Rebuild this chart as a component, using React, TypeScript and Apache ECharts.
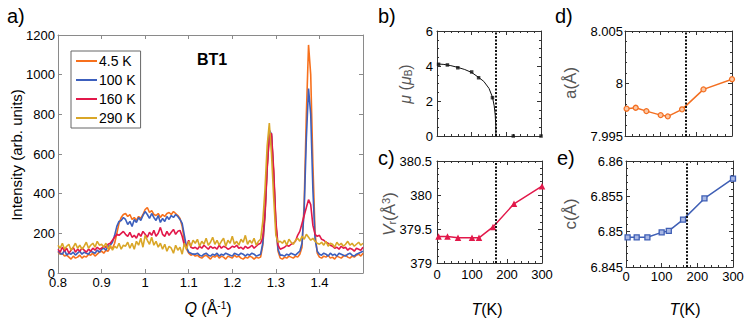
import React, { useEffect, useRef } from 'react';
import * as echarts from 'echarts';

const FONT = '"Liberation Sans", Arial, Helvetica, sans-serif';

// ---------- Panel a: neutron diffraction patterns (BT1) ----------
const Q_START = 0.8;
const Q_STEP = 0.005;

const int4K = [
  105, 95, 100, 85, 90, 80, 70, 85, 75, 80, 90, 75, 85, 80, 95, 90, 100, 85, 95, 105, 110,
  100, 115, 110, 130, 125, 150, 200, 250, 280, 295,
  300, 285, 295, 270, 280, 265, 285, 275, 295, 320, 330, 305, 315, 295, 290, 300, 280, 295, 285, 300, 305, 295, 310, 300, 290, 275,
  235, 165, 120, 100, 90, 95,
  85, 90, 80, 75, 85, 90, 80, 70, 85, 80, 90, 75, 85, 80, 70, 85, 80, 75, 90, 80, 85, 75, 70, 80, 75, 85, 80, 70, 80, 75,
  80, 140, 280, 520, 700, 690, 500, 250, 110, 75,
  70, 80, 75, 85, 80, 75, 85, 80,
  95, 130, 350, 800, 1150, 1000, 550, 200, 100, 80,
  75, 85, 80, 90, 75, 80, 70, 85, 80, 75, 85, 90, 80, 75, 85, 80, 90, 95, 85, 100,
];

const int100K = [
  110, 100, 95, 115, 90, 100, 95, 105, 90, 100, 110, 95, 105, 100, 95, 110, 105, 100, 115, 105, 120,
  125, 115, 135, 140, 155, 190, 235, 260, 265, 280,
  270, 245, 260, 235, 270, 255, 280, 265, 290, 310, 295, 275, 300, 280, 265, 290, 255, 275, 260, 285, 270, 290, 280, 295, 285, 270,
  250, 190, 130, 105, 100, 95,
  95, 100, 90, 85, 95, 100, 90, 85, 95, 90, 100, 85, 95, 90, 100, 95, 90, 85, 100, 95, 90, 100, 95, 85, 95, 90, 100, 95, 85, 90,
  95, 150, 300, 540, 720, 700, 490, 240, 120, 90,
  90, 85, 95, 90, 100, 95, 90, 100,
  110, 150, 320, 680, 930, 800, 420, 170, 110, 95,
  90, 100, 95, 85, 100, 90, 95, 85, 100, 95, 90, 85, 95, 100, 90, 85, 95, 100, 105, 110,
];

const int160K = [
  120, 105, 130, 110, 125, 100, 115, 130, 105, 120, 110, 125, 115, 105, 120, 110, 125, 115, 130, 120, 125,
  135, 130, 145, 150, 165, 180, 195, 190, 200, 210,
  195, 185, 205, 180, 190, 175, 200, 185, 210, 195, 180, 205, 190, 215, 185, 200, 230, 195, 185, 210, 190, 205, 220, 195, 210, 215,
  185, 140, 135, 165, 130, 125,
  130, 120, 135, 125, 140, 130, 120, 135, 125, 130, 120, 140, 125, 135, 130, 120, 125, 135, 130, 140, 125, 130, 120, 135, 125, 130, 140, 125, 135, 145,
  150, 180, 300, 530, 690, 705, 520, 260, 140, 120,
  125, 130, 140, 135, 145, 150, 160, 190,
  210, 250, 290, 330, 370, 345, 240, 195, 185, 190,
  170, 165, 155, 150, 140, 135, 125, 130, 120, 135, 125, 130, 115, 125, 120, 110, 125, 120, 115, 130,
];

const int290K = [
  140, 125, 150, 120, 135, 145, 115, 130, 150, 125, 140, 120, 135, 155, 125, 140, 150, 130, 160, 140, 145,
  130, 150, 120, 140, 115, 135, 125, 150, 120, 140,
  135, 155, 125, 150, 120, 160, 140, 175, 130, 190, 165, 145, 180, 140, 160, 130, 150, 120, 145, 110, 135, 125, 100, 140, 115, 130,
  95, 150, 120, 160, 135, 165,
  150, 170, 135, 160, 145, 175, 140, 155, 180, 145, 165, 140, 160, 175, 135, 165, 150, 185, 145, 160, 140, 170, 155, 190, 145, 165, 150, 175, 140, 160,
  170, 260, 420, 640, 756, 600, 380, 190, 155, 160,
  150, 165, 140, 170, 155, 145, 165, 175,
  160, 185, 170, 195, 180, 165, 175, 160, 150, 145,
  155, 140, 160, 135, 150, 145, 130, 155, 140, 150, 135, 145, 160, 140, 150, 135, 145, 155, 140, 150,
];

const patternNames = ['4.5 K', '100 K', '160 K', '290 K'];
const patternColors = ['#f7701c', '#3c5fbd', '#e2184a', '#d9a627'];
const patterns = [int4K, int100K, int160K, int290K];

// ---------- Panels b-e: temperature dependence ----------
const tPoints = [4.5, 30, 60, 100, 120, 160, 220, 300];
const muValues = [4.10, 4.06, 3.90, 3.66, 3.33, 2.19, 0, 0];
const muFitT = [0, 20, 40, 60, 80, 100, 120, 135, 150, 160, 165, 168, 169.5, 170];
const muFitValues = [4.12, 4.09, 4.02, 3.92, 3.80, 3.63, 3.35, 3.12, 2.72, 2.22, 1.72, 1.2, 0.6, 0];
const vrValues = [379.39, 379.39, 379.37, 379.37, 379.37, 379.53, 379.87, 380.13];
const aValues = [7.9976, 7.99769, 7.99737, 7.99699, 7.99687, 7.99754, 7.99944, 8.00041];
const cValues = [6.8492, 6.8492, 6.8492, 6.8499, 6.8501, 6.8517, 6.8547, 6.8575];
const tTransition = 169;

const tickLabels = {
  q: ['0.8', '0.9', '1', '1.1', '1.2', '1.3', '1.4'],
};

const qGrid = int4K.map((_, i) => +(Q_START + i * Q_STEP).toFixed(3));

function pairs(xs: number[], ys: number[]) {
  return ys.map((y, i) => [xs[i], y]);
}

const fmt = (d: number) => (v: number) => String(parseFloat(v.toFixed(d)));

const grayA = '#8a8a8a';
const dark = '#333';

function xAxes(grid: number, min: number, max: number, interval: number, color: string, labels: any, minor: boolean) {
  const common = {
    type: 'value',
    gridIndex: grid,
    min,
    max,
    interval,
    axisLine: { show: true, onZero: false, lineStyle: { color, width: 1 } },
    axisTick: { show: true, inside: true, length: 4, lineStyle: { color } },
    minorTick: { show: minor, splitNumber: 5, length: 2, lineStyle: { color } },
    splitLine: { show: false },
    minorSplitLine: { show: false },
  };
  return [
    { ...common, position: 'bottom', axisLabel: labels },
    { ...common, position: 'top', axisLabel: { show: false } },
  ];
}

function yAxes(grid: number, min: number, max: number, interval: number, color: string, labels: any, minor: boolean, minorSplit = 4) {
  const common = {
    type: 'value',
    gridIndex: grid,
    min,
    max,
    interval,
    axisLine: { show: true, onZero: false, lineStyle: { color, width: 1 } },
    axisTick: { show: true, inside: true, length: 4, lineStyle: { color } },
    minorTick: { show: minor, splitNumber: minorSplit, length: 2, lineStyle: { color } },
    splitLine: { show: false },
    minorSplitLine: { show: false },
  };
  return [
    { ...common, position: 'left', axisLabel: labels },
    { ...common, position: 'right', axisLabel: { show: false } },
  ];
}

const labelStyle = (margin: number, formatter?: any) => ({
  show: true,
  color: '#000',
  fontSize: 13,
  fontFamily: FONT,
  margin,
  formatter,
});

const dottedLine = {
  silent: true,
  symbol: 'none',
  label: { show: false },
  lineStyle: { type: [2, 1.5], color: '#111', width: 2 },
  data: [{ xAxis: tTransition }],
};

function txt(x: number, y: number, text: string, size: number, opts: any = {}) {
  return {
    type: 'text',
    x,
    y,
    rotation: opts.rotate ? Math.PI / 2 : 0,
    silent: true,
    style: {
      text,
      fill: opts.color || '#000',
      fontSize: size,
      fontFamily: FONT,
      fontWeight: opts.bold ? 'bold' : 'normal',
      align: opts.align || 'center',
      verticalAlign: 'middle',
      rich: opts.rich,
    },
  };
}

const richBase = (size: number, color: string) => ({
  i: { fontStyle: 'italic', fontSize: size, fontFamily: FONT, color },
  n: { fontSize: size, fontFamily: FONT, color },
  sup: { fontSize: Math.round(size * 0.65), fontFamily: FONT, verticalAlign: 'top', color },
  sub: { fontSize: Math.round(size * 0.65), fontFamily: FONT, verticalAlign: 'bottom', color },
});

const labelGray = '#555';

const option: any = {
  animation: false,
  backgroundColor: '#fff',
  textStyle: { fontFamily: FONT },
  grid: [
    { left: 58, top: 35, width: 305, height: 238 },
    { left: 437, top: 31, width: 104, height: 105 },
    { left: 437, top: 161, width: 105, height: 102 },
    { left: 625, top: 31, width: 107, height: 105 },
    { left: 626, top: 161, width: 107, height: 106 },
  ],
  xAxis: [
    ...xAxes(0, 0.8, 1.5, 0.1, grayA, labelStyle(3, (v: number) => {
      const i = Math.round((v - 0.8) / 0.1);
      return tickLabels.q[i] ?? '';
    }), false),
    ...xAxes(1, 0, 300, 100, dark, { show: false }, true),
    ...xAxes(2, 0, 300, 100, dark, labelStyle(5, fmt(0)), true),
    ...xAxes(3, 0, 300, 100, dark, { show: false }, true),
    ...xAxes(4, 0, 300, 100, dark, labelStyle(3, fmt(0)), true),
  ],
  yAxis: [
    ...yAxes(0, 0, 1200, 200, grayA, labelStyle(3, fmt(0)), false),
    ...yAxes(1, 0, 6, 2, dark, labelStyle(4, fmt(0)), true, 4),
    ...yAxes(2, 379, 380.5, 0.5, dark, labelStyle(5, fmt(1)), true, 5),
    ...yAxes(3, 7.995, 8.005, 0.005, dark, labelStyle(2, fmt(3)), true, 5),
    ...yAxes(4, 6.845, 6.86, 0.005, dark, labelStyle(3, fmt(3)), true, 5),
  ],
  legend: {
    data: patternNames,
    left: 71,
    top: 51,
    orient: 'vertical',
    icon: 'rect',
    itemWidth: 21,
    itemHeight: 2,
    itemGap: 5,
    padding: [3, 5, 3, 5],
    borderColor: '#666',
    borderWidth: 1,
    backgroundColor: '#fff',
    textStyle: { fontSize: 14, fontFamily: FONT, color: '#000', lineHeight: 14, padding: [0, 0, 0, -3] },
  },
  series: [
    ...patterns.map((p, k) => ({
      name: patternNames[k],
      type: 'line',
      xAxisIndex: 0,
      yAxisIndex: 0,
      symbol: 'none',
      showSymbol: false,
      color: patternColors[k],
      lineStyle: { width: 1.6, color: patternColors[k] },
      data: pairs(qGrid, p),
      z: 2 + k,
    })),
    {
      name: 'mu fit',
      type: 'line',
      xAxisIndex: 2,
      yAxisIndex: 2,
      symbol: 'none',
      color: '#111',
      lineStyle: { width: 1, color: '#111' },
      data: pairs(muFitT, muFitValues),
    },
    {
      name: 'mu',
      type: 'scatter',
      xAxisIndex: 2,
      yAxisIndex: 2,
      symbol: 'rect',
      symbolSize: 3.5,
      itemStyle: { color: '#111' },
      data: pairs(tPoints, muValues),
      markLine: dottedLine,
    },
    {
      name: 'Vr',
      type: 'line',
      xAxisIndex: 4,
      yAxisIndex: 4,
      symbol: 'triangle',
      symbolSize: 6.5,
      color: '#e2184a',
      lineStyle: { width: 1.5, color: '#e2184a' },
      itemStyle: { color: '#e2184a' },
      data: pairs(tPoints, vrValues),
      markLine: dottedLine,
    },
    {
      name: 'a',
      type: 'line',
      xAxisIndex: 6,
      yAxisIndex: 6,
      symbol: 'circle',
      symbolSize: 5,
      color: '#f36f21',
      lineStyle: { width: 1.5, color: '#f36f21' },
      itemStyle: { color: '#fcc7a3', borderColor: '#f36f21', borderWidth: 1.3 },
      data: pairs(tPoints, aValues),
      markLine: dottedLine,
    },
    {
      name: 'c',
      type: 'line',
      xAxisIndex: 8,
      yAxisIndex: 8,
      symbol: 'rect',
      symbolSize: 5,
      color: '#3f5fb5',
      lineStyle: { width: 1.5, color: '#3f5fb5' },
      itemStyle: { color: '#a9b8e4', borderColor: '#3f5fb5', borderWidth: 1.3 },
      data: pairs(tPoints, cValues),
      markLine: dottedLine,
    },
  ],
  graphic: [
    txt(7, 16, 'a)', 20, { align: 'left' }),
    txt(378, 16, 'b)', 20, { align: 'left' }),
    txt(378, 158, 'c)', 20, { align: 'left' }),
    txt(555, 16, 'd)', 20, { align: 'left' }),
    txt(557, 158, 'e)', 20, { align: 'left' }),
    txt(197, 59, 'BT1', 16, { align: 'left', bold: true }),
    txt(16, 155, 'Intensity (arb. units)', 15, { rotate: true }),
    txt(208, 308, '{i|Q}{n| (Å}{sup|-1}{n|)}', 16, { rich: richBase(16, '#000') }),
    txt(405, 84, '{i|μ}{n| (}{i|μ}{sub|B}{n|)}', 16, { rotate: true, color: labelGray, rich: richBase(16, labelGray) }),
    txt(389, 214, '{i|V}{sub|r}{n|(Å}{sup|3}{n|)}', 17, { rotate: true, color: labelGray, rich: richBase(17, labelGray) }),
    txt(570, 83, 'a(Å)', 17, { rotate: true, color: labelGray }),
    txt(570, 214, 'c(Å)', 17, { rotate: true, color: labelGray }),
    txt(487, 309, '{i|T}{n|(K)}', 16, { rich: richBase(16, '#000') }),
    txt(685, 309, '{i|T}{n|(K)}', 16, { rich: richBase(16, '#000') }),
  ],
};

export default function App() {
  const ref = useRef<HTMLDivElement>(null);
  useEffect(() => {
    if (!ref.current) return;
    const chart = echarts.init(ref.current, null, { renderer: 'svg' });
    chart.setOption(option);
    return () => chart.dispose();
  }, []);
  return (
    <div
      ref={ref}
      style={{ position: 'absolute', left: 0, top: 0, width: 747, height: 325, background: '#fff' }}
    />
  );
}
